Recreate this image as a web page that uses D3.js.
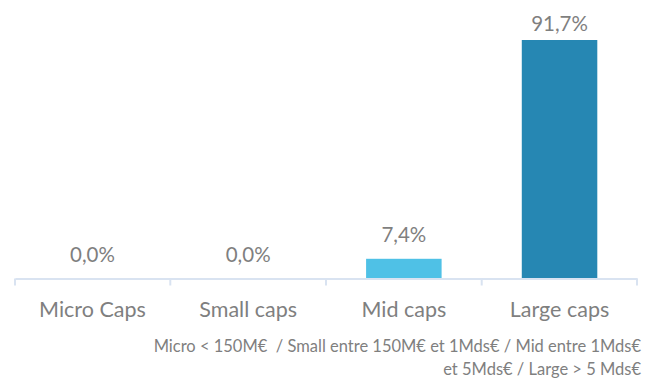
<!DOCTYPE html>
<html>
<head>
<meta charset="utf-8">
<script src="https://cdn.jsdelivr.net/npm/d3@7"></script>
<style>
  body { margin: 0; background: #fff; }
  text { font-family: Lato, "Open Sans", sans-serif; fill: #7f7f7f; }
</style>
</head>
<body>
<div id="canvas"></div>
<script>
"use strict"

// data
let categories = ["Micro Caps", "Small caps", "Mid caps", "Large caps"];
let values = [0.0, 0.0, 7.4, 91.7];
let barColors = ["#4fc1e6", "#4fc1e6", "#4fc1e6", "#2687b3"];
let noteLines = ["Micro < 150M€  / Small entre 150M€ et 1Mds€ / Mid entre 1Mds€",
                 "et 5Mds€ / Large > 5 Mds€"];

let drawing = d3.select("#canvas")
  .append("svg")
  .attr("width", 659)
  .attr("height", 378);

let x = d3.scaleBand()
  .domain(categories)
  .range([15, 637])
  .paddingInner(0.515)
  .paddingOuter(0.255);

let y = d3.scaleLinear()
  .domain([0, 91.7])
  .range([278, 40]);

/* bars */
drawing.selectAll("rect.bar")
  .data(values)
  .enter().append("rect")
  .attr("class", "bar")
  .attr("x", (d, i) => x(categories[i]))
  .attr("y", d => y(d))
  .attr("width", x.bandwidth())
  .attr("height", d => y(0) - y(d))
  .attr("fill", (d, i) => barColors[i]);

/* value labels (the top one sits closer to its bar, as in the original) */
drawing.selectAll("text.val")
  .data(values)
  .enter().append("text")
  .attr("class", "val")
  .attr("x", (d, i) => x(categories[i]) + x.bandwidth() / 2)
  .attr("y", d => Math.max(y(d) - 16.5, 31))
  .attr("text-anchor", "middle")
  .attr("font-size", 20.5)
  .text(d => d.toFixed(1).replace(".", ",") + "%");

/* axis */
let axisX = d3.axisBottom(x).tickSize(0).tickPadding(22);
let axisG = drawing.append("g")
  .attr("transform", "translate(0," + 278.5 + ")")
  .call(axisX);
axisG.select(".domain").attr("stroke", "#d9e3f1").attr("stroke-width", 2);
axisG.selectAll(".tick text")
  .attr("font-size", 21.5)
  .attr("dy", "0")
  .attr("y", 38.5)
  .attr("font-family", "Lato, 'Open Sans', sans-serif")
  .attr("fill", "#7f7f7f");

/* band separators */
let edges = categories.map(c => x(c) - x.step() * x.paddingInner() / 2);
edges.push(637);
edges[0] = 15;
drawing.selectAll("line.sep")
  .data(edges)
  .enter().append("line")
  .attr("class", "sep")
  .attr("x1", d => d).attr("x2", d => d)
  .attr("y1", 278.5).attr("y2", 285.5)
  .attr("stroke", "#d9e3f1")
  .attr("stroke-width", 2);

/* footnote */
drawing.selectAll("text.note")
  .data(noteLines)
  .enter().append("text")
  .attr("class", "note")
  .attr("x", 641)
  .attr("y", (d, i) => 351.5 + i * 23.5)
  .attr("text-anchor", "end")
  .attr("font-size", 16.5)
  .style("white-space", "pre")
  .text(d => d);
</script>
</body>
</html>
